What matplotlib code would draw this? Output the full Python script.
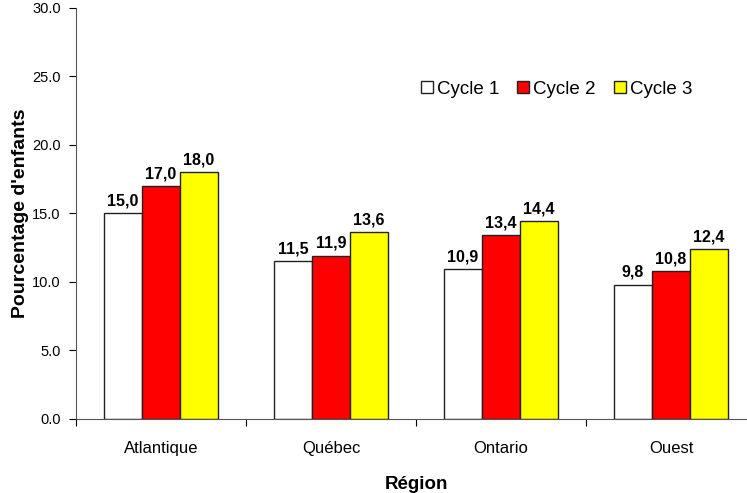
import numpy as np
import matplotlib
matplotlib.use("Agg")
import matplotlib.pyplot as plt

plt.rcParams["font.family"] = ["Liberation Sans", "DejaVu Sans"]

regions = ["Atlantique", "Québec", "Ontario", "Ouest"]
cycles = ["Cycle 1", "Cycle 2", "Cycle 3"]
cycle1 = [15.0, 11.5, 10.9, 9.8]
cycle2 = [17.0, 11.9, 13.4, 10.8]
cycle3 = [18.0, 13.6, 14.4, 12.4]
colors = ["white", "#ff0000", "#ffff00"]
yticks = [0.0, 5.0, 10.0, 15.0, 20.0, 25.0, 30.0]


def fr(v):
    return f"{v:.1f}".replace(".", ",")


fig = plt.figure(figsize=(7.47, 4.93), dpi=100)
ax = fig.add_axes([76 / 747, 74 / 493, 680 / 747, 411.5 / 493])

x = np.arange(len(regions))
w = 0.224
for i, (vals, col) in enumerate(zip([cycle1, cycle2, cycle3], colors)):
    pos = x + (i - 1) * w
    ax.bar(pos, vals, width=w, color=col, edgecolor="#222222", linewidth=1.0,
           label=cycles[i], zorder=2)
    for p, v in zip(pos, vals):
        ax.text(p, v + 0.35, fr(v), ha="center", va="bottom",
                fontsize=11.5, fontweight="bold")

ax.set_xlim(-0.5, len(regions) - 0.5)
ax.set_ylim(0, 30)
ax.set_yticks(yticks)
ax.set_yticklabels([f"{t:.1f}" for t in yticks], fontsize=10.5)

# boundaries as major ticks, labels centred with minor ticks
ax.set_xticks(np.arange(len(regions) + 1) - 0.5)
ax.set_xticklabels([])
ax.set_xticks(x, minor=True)
ax.set_xticklabels(regions, minor=True, fontsize=12)
ax.tick_params(axis="x", which="minor", length=0, pad=16)
ax.tick_params(axis="x", which="major", length=5, direction="out")
ax.tick_params(axis="y", length=5, direction="out", pad=6)

for s in ["top", "right"]:
    ax.spines[s].set_visible(False)
ax.spines["left"].set_color("#555555")
ax.spines["bottom"].set_color("#555555")

ax.set_ylabel("Pourcentage d'enfants", fontsize=14, fontweight="bold", labelpad=2)
ax.set_xlabel("Région", fontsize=13.5, fontweight="bold", labelpad=14)

fig.legend(loc="center left", bbox_to_anchor=(421 / 747, 404 / 493), ncol=3,
           frameon=False, fontsize=13.5, borderpad=0, borderaxespad=0,
           handlelength=0.64, handleheight=0.64, handletextpad=0.22,
           columnspacing=0.95)

plt.savefig("out.png", dpi=100)
plt.close()
